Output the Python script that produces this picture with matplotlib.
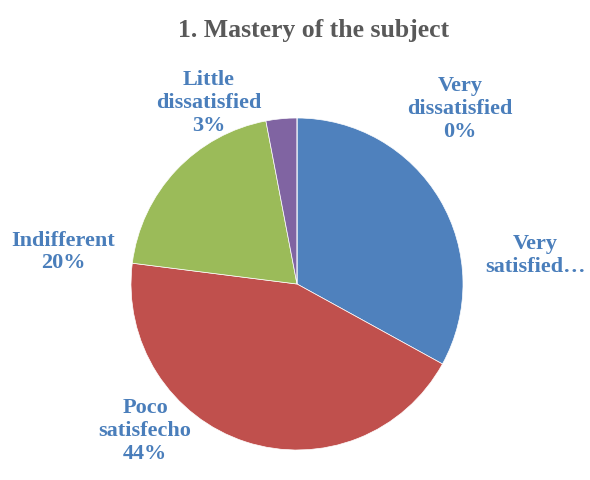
import matplotlib.pyplot as plt

labels = ['Very\nsatisfied\u2026', 'Poco\nsatisfecho\n44%', 'Indifferent\n20%',
          'Little\ndissatisfied\n3%', 'Very\ndissatisfied\n0%']
values = [33, 44, 20, 3, 0]
colors = ['#4F81BD', '#C0504D', '#9BBB59', '#8064A2', '#4BACC6']
# label centres in pixels (x, y from top)
label_pos = [(535, 255), (145, 431), (63, 252), (209, 103), (460, 109)]

W, H = 590, 480
fig = plt.figure(figsize=(W / 100, H / 100), dpi=100)
plt.rcParams['font.family'] = ['Liberation Serif', 'DejaVu Serif']

cx, cy, r = 297, 284, 166
ax = fig.add_axes([(cx - r) / W, (H - cy - r) / H, 2 * r / W, 2 * r / H])
ax.pie(values, colors=colors, startangle=90, counterclock=False,
       wedgeprops=dict(linewidth=0.5, edgecolor='white'))
ax.set_xlim(-1, 1)
ax.set_ylim(-1, 1)

fig.text(314 / W, 1 - 30 / H, '1. Mastery of the subject', ha='center', va='center',
         fontsize=18.5, fontweight='bold', color='#595959')

for lab, (x, y) in zip(labels, label_pos):
    fig.text(x / W, 1 - y / H, lab, ha='center', va='center', fontsize=16,
             fontweight='bold', color='#4A7EBB', linespacing=1.2)

plt.savefig('out.png', dpi=100)
